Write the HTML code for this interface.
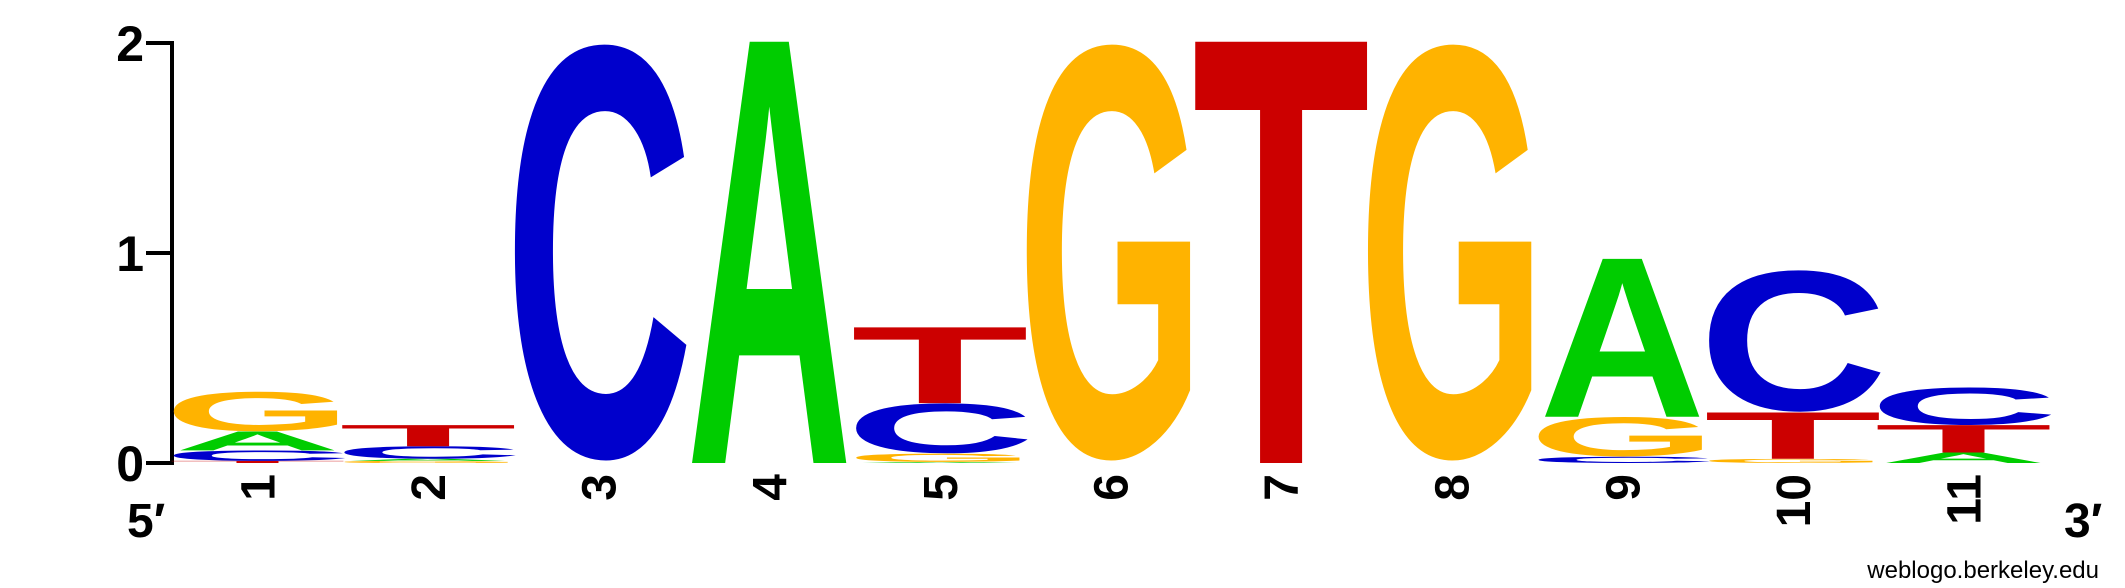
<!DOCTYPE html>
<html><head><meta charset="utf-8"><style>
html,body{margin:0;padding:0;background:#fff;}
svg{display:block;}
text{font-family:"Liberation Sans",Arial,sans-serif;}
</style></head><body>
<svg id="logo" width="2125" height="588" viewBox="0 0 2125 588" xmlns="http://www.w3.org/2000/svg">
<g id="axis"></g>
<g id="letters"></g>
<g id="xlabels"></g>
<text x="127" y="537" font-size="48" font-weight="bold">5′</text>
<text x="2064" y="537" font-size="48" font-weight="bold">3′</text>
<text x="2099" y="578" font-size="24" text-anchor="end">weblogo.berkeley.edu</text>
</svg>
<script>
// Data: per position, letters stacked bottom -> top with heights in bits
const positions = ["1","2","3","4","5","6","7","8","9","10","11"];
const stackLetters = [
  ["T","C","A","G"],
  ["G","A","C","T"],
  ["C"],
  ["A"],
  ["A","G","C","T"],
  ["G"],
  ["T"],
  ["G"],
  ["C","G","A"],
  ["G","T","C"],
  ["A","T","C"]
];
const stackHeights = [
  [0.01,0.05,0.09,0.19],
  [0.01,0.01,0.06,0.10],
  [2.0],
  [2.0],
  [0.005,0.04,0.24,0.36],
  [2.0],
  [2.0],
  [2.0],
  [0.03,0.19,0.75],
  [0.02,0.22,0.68],
  [0.05,0.13,0.18]
];
const yTicks = [0,1,2];

const NS="http://www.w3.org/2000/svg";
const colors={A:"#00cc00",C:"#0000cc",G:"#ffb300",T:"#cc0000"};
const metrics={ // font units (1000 em): xMin,xMax,yMin,yMax
  A:[0,722,0,686], C:[44,677,-14,701], G:[44,730,-14,701], T:[21,590,0,686]
};
const y0=463, pxPerBit=210, colStart=174.5, pitch=170.6, colW=166, axisX=172;
function yScale(v){return y0 - v*pxPerBit;}
function xCol(i){return colStart + i*pitch;}

const axis=document.getElementById('axis');
const ln=document.createElementNS(NS,'path');


ln.setAttribute('d','M'+axisX+' '+yScale(yTicks[yTicks.length-1])+' V'+yScale(0));
ln.setAttribute('stroke','#000');ln.setAttribute('stroke-width','4');ln.setAttribute('fill','none');
axis.appendChild(ln);
yTicks.forEach(t=>{
  const tk=document.createElementNS(NS,'line');
  
  
  tk.setAttribute('x1',axisX-26);tk.setAttribute('x2',axisX+2);
  tk.setAttribute('y1',yScale(t));tk.setAttribute('y2',yScale(t));
  tk.setAttribute('stroke','#000');tk.setAttribute('stroke-width','4');
  axis.appendChild(tk);
  const lb=document.createElementNS(NS,'text');
  
  
  lb.setAttribute('x',axisX-28);lb.setAttribute('y',yScale(t)+18);
  lb.setAttribute('text-anchor','end');lb.setAttribute('font-size','50');lb.setAttribute('font-weight','bold');
  lb.textContent=String(t);
  axis.appendChild(lb);
});

const lg=document.getElementById('letters');
stackLetters.forEach((lets,i)=>{
  let cum=0;
  const x0=xCol(i);
  lets.forEach((L,j)=>{
    const h=stackHeights[i][j];
    const base=yScale(cum);
    cum+=h;
    const hp=h*pxPerBit;
    if(hp<0.3) return;
    const m=metrics[L];
    const sx=colW/(m[1]-m[0]);
    const sy=hp/(m[3]-m[2]);
    const t=document.createElementNS(NS,'text');
    
    
    t.setAttribute('font-size','1000');
    t.setAttribute('font-weight','bold');
    t.setAttribute('fill',colors[L]);
    t.setAttribute('transform','translate('+(x0-m[0]*sx)+','+(base+m[2]*sy)+') scale('+sx+','+sy+')');
    t.textContent=L;
    lg.appendChild(t);
  });
});

const xl=document.getElementById('xlabels');
positions.forEach((p,i)=>{
  const cx=xCol(i)+colW/2;
  const t=document.createElementNS(NS,'text');
  
  
  t.setAttribute('font-size','48');t.setAttribute('font-weight','bold');
  t.setAttribute('text-anchor','end');
  t.setAttribute('transform','translate('+(cx+17)+',474) rotate(-90)');
  t.textContent=p;
  xl.appendChild(t);
});
</script>
</body></html>
